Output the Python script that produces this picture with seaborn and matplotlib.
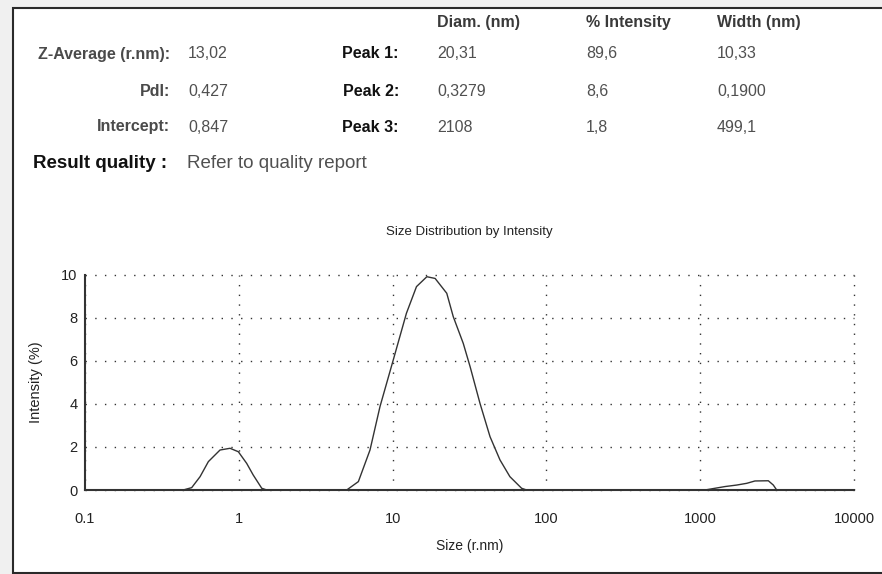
import matplotlib
matplotlib.use("Agg")
import matplotlib.pyplot as plt
import numpy as np
import pandas as pd
import seaborn as sns
from matplotlib.patches import Rectangle
from matplotlib.ticker import FixedLocator, LogLocator, NullFormatter

# size distribution (size in r.nm, intensity in %)
peak2_size = [0.435, 0.494, 0.560, 0.634, 0.755, 0.877, 0.993, 1.125, 1.24, 1.41, 1.52]
peak2_int = [0.0, 0.11, 0.62, 1.32, 1.86, 1.94, 1.78, 1.24, 0.70, 0.08, 0.0]
peak1_size = [5.03, 5.99, 7.13, 8.28, 10.1, 12.3, 14.3, 16.7, 18.9, 22.5, 24.8, 28.8,
              31.9, 37.0, 43.0, 49.9, 57.9, 69.0, 74.4]
peak1_int = [0.0, 0.39, 1.86, 3.88, 6.05, 8.22, 9.46, 9.92, 9.84, 9.15, 8.06, 6.82,
             5.74, 4.03, 2.48, 1.40, 0.62, 0.08, 0.0]
peak3_size = [1074, 1247, 1449, 1727, 2005, 2270, 2773, 2988, 3143]
peak3_int = [0.0, 0.08, 0.16, 0.23, 0.31, 0.42, 0.43, 0.23, 0.0]

x_ticks = [0.1, 1, 10, 100, 1000, 10000]
x_ticklabels = ["0.1", "1", "10", "100", "1000", "10000"]
y_ticks = [0, 2, 4, 6, 8, 10]

# results table
left_labels = ["Z-Average (r.nm):", "PdI:", "Intercept:"]
left_values = ["13,02", "0,427", "0,847"]
peak_labels = ["Peak 1:", "Peak 2:", "Peak 3:"]
col_headers = ["Diam. (nm)", "% Intensity", "Width (nm)"]
diam = ["20,31", "0,3279", "2108"]
intensity = ["89,6", "8,6", "1,8"]
width = ["10,33", "0,1900", "499,1"]

sns.set_style("white")
plt.rcParams["font.family"] = ["Liberation Sans", "DejaVu Sans"]

W, H = 882, 574
fig = plt.figure(figsize=(W / 100, H / 100), dpi=100, facecolor="#f0f0f0")

# white report panel
fig.patches.append(Rectangle((13 / W, 1 - 573 / H), 1.0, (573 - 8) / H,
                             transform=fig.transFigure, facecolor="white",
                             edgecolor="#2a2a2a", linewidth=1.5, zorder=-5))


def px(x, y):
    return x / W, 1 - y / H


fs = 11.5
lab_color = "#4a4a4a"
val_color = "#505050"
rows_y = [54, 91, 127]
for i in range(3):
    fig.text(*px(170, rows_y[i]), left_labels[i], ha="right", va="center",
             fontsize=fs, color=lab_color, fontweight="bold")
    fig.text(*px(188, rows_y[i]), left_values[i], ha="left", va="center",
             fontsize=fs, color=val_color)
    fig.text(*px(399, rows_y[i]), peak_labels[i], ha="right", va="center",
             fontsize=fs, color="#111111", fontweight="bold")
    fig.text(*px(437, rows_y[i]), diam[i], ha="left", va="center", fontsize=fs, color=val_color)
    fig.text(*px(586, rows_y[i]), intensity[i], ha="left", va="center", fontsize=fs, color=val_color)
    fig.text(*px(717, rows_y[i]), width[i], ha="left", va="center", fontsize=fs, color=val_color)

for xh, txt in zip([437, 586, 717], col_headers):
    fig.text(*px(xh, 22), txt, ha="left", va="center", fontsize=fs, color="#3a3a3a",
             fontweight="bold")

fig.text(*px(33, 164), "Result quality :", ha="left", va="center", fontsize=13.5,
         color="#111111", fontweight="bold")
fig.text(*px(187, 164), "Refer to quality report", ha="left", va="center", fontsize=13.5,
         color=val_color)

# chart
ax = fig.add_axes([85 / W, 1 - 490 / H, (854 - 85) / W, (490 - 275) / H])
ax.patch.set_alpha(0)

for s, v in [(peak2_size, peak2_int), (peak1_size, peak1_int), (peak3_size, peak3_int)]:
    df = pd.DataFrame({"size": s, "intensity": v})
    sns.lineplot(data=df, x="size", y="intensity", ax=ax, color="#333333",
                 linewidth=1.0, estimator=None, sort=False, clip_on=False)

ax.set_xscale("log")
ax.set_xlim(0.1, 10000)
ax.set_ylim(0, 10)
ax.xaxis.set_major_locator(FixedLocator(x_ticks))
ax.set_xticklabels(x_ticklabels)
ax.xaxis.set_minor_locator(LogLocator(base=10, subs=np.arange(2, 10)))
ax.xaxis.set_minor_formatter(NullFormatter())
ax.yaxis.set_major_locator(FixedLocator(y_ticks))
ax.yaxis.set_minor_locator(FixedLocator([1, 3, 5, 7, 9]))

ax.grid(True, which="major", color="#333333", linestyle=(0, (1, 6)), linewidth=1.0)
for gl in ax.get_xgridlines() + ax.get_ygridlines():
    gl.set_clip_on(False)
for side in ["top", "right"]:
    ax.spines[side].set_visible(False)
for side in ["left", "bottom"]:
    ax.spines[side].set_color("#333333")
    ax.spines[side].set_linewidth(1.5)
    ax.spines[side].set_zorder(3)

ax.tick_params(axis="both", which="both", direction="inout", color="#333333", width=1.0)
ax.tick_params(axis="x", which="major", length=7, pad=12, labelsize=10.5, labelcolor="#222222")
ax.tick_params(axis="x", which="minor", length=5)
ax.tick_params(axis="y", which="major", length=7, pad=2, labelsize=10.5, labelcolor="#222222")
ax.tick_params(axis="y", which="minor", length=6)

ax.set_xlabel("Size (r.nm)", fontsize=10, color="#222222", labelpad=10)
ax.set_ylabel("Intensity (%)", fontsize=10.5, color="#222222", labelpad=13)
ax.set_title("Size Distribution by Intensity", fontsize=9.5, color="#222222", pad=29)

fig.savefig("out.png", dpi=100, facecolor=fig.get_facecolor())
